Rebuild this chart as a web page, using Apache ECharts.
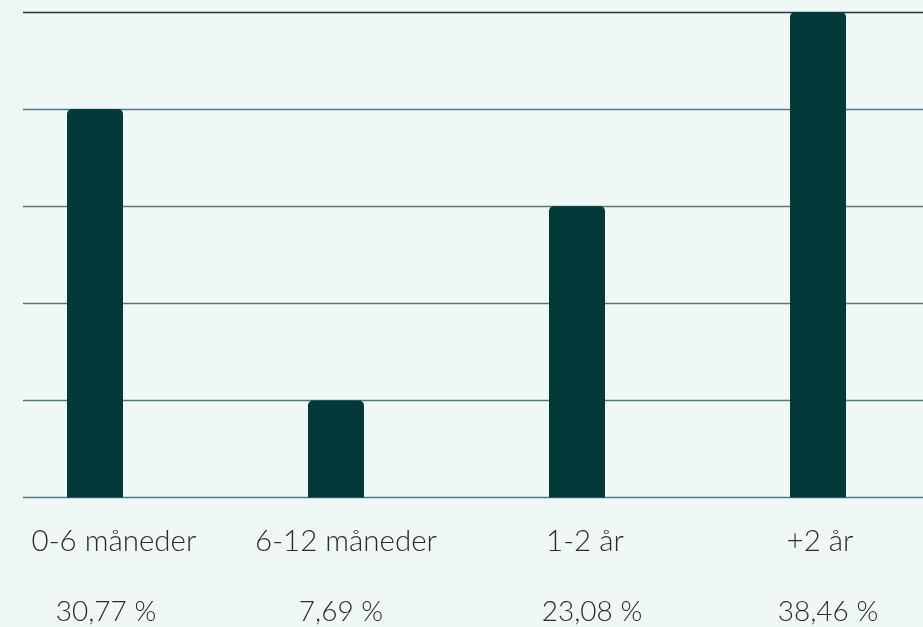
<!DOCTYPE html>
<html>
<head>
<meta charset="utf-8">
<style>
  html, body { margin: 0; padding: 0; background: #eff8f5; }
  #chart { width: 923px; height: 627px; }
</style>
<script src="https://cdn.jsdelivr.net/npm/echarts@6/dist/echarts.min.js"></script>
</head>
<body>
<div id="chart"></div>
<script>
// kategorier og andeler (%)
const categories = ['0-6 måneder', '6-12 måneder', '1-2 år', '+2 år'];
const shares = [30.77, 7.69, 23.08, 38.46];
const shareLabels = ['30,77 %', '7,69 %', '23,08 %', '38,46 %'];

const yMax = 38.46;
const yStep = yMax / 5;

const chart = echarts.init(document.getElementById('chart'));

const lineColor = '#57777e';
const textBase = { fontFamily: 'Lato', fontWeight: 300, color: '#2b2b2b', lineHeight: 71 };

// litt forskyvning av etikettene, som i originalen
const nameShift = [38, 20, 16, 4];
const pctShift = [22, 10, 30, 20];

const rich = {};
categories.forEach((c, i) => {
  rich['a' + i] = Object.assign({}, textBase, { fontSize: 29.5, padding: [0, 0, 0, nameShift[i]] });
  rich['b' + i] = Object.assign({}, textBase, { fontSize: 28, padding: [0, 0, 0, pctShift[i]] });
});

const option = {
  backgroundColor: '#eff8f5',
  animation: false,
  grid: [
    // bakgrunnslinjer
    { left: 23, right: 0, top: 12, bottom: 129.5, outerBoundsMode: 'none' },
    // søyler
    { left: -25.5, right: -15.5, top: 12, bottom: 129.5, outerBoundsMode: 'none' }
  ],
  xAxis: [
    { gridIndex: 0, type: 'value', show: false },
    {
      gridIndex: 1,
      type: 'category',
      data: categories,
      axisLine: { show: false },
      axisTick: { show: false },
      axisLabel: {
        margin: 8,
        interval: 0,
        formatter: (val, idx) => '{a' + idx + '|' + val + '}\n{b' + idx + '|' + shareLabels[idx] + '}',
        rich: rich
      }
    }
  ],
  yAxis: [
    {
      gridIndex: 0,
      type: 'value',
      min: 0,
      max: yMax,
      interval: yStep,
      axisLine: { show: false },
      axisTick: { show: false },
      axisLabel: { show: false },
      splitLine: {
        lineStyle: {
          color: [lineColor, lineColor, lineColor, lineColor, lineColor, '#1d3840'],
          width: 1.3
        }
      }
    },
    {
      gridIndex: 1,
      type: 'value',
      min: 0,
      max: yMax,
      show: false
    }
  ],
  series: [{
    type: 'bar',
    xAxisIndex: 1,
    yAxisIndex: 1,
    data: shares,
    barWidth: 56,
    itemStyle: {
      color: '#033a39',
      borderRadius: [5, 5, 0, 0]
    }
  }]
};

chart.setOption(option);
</script>
</body>
</html>
